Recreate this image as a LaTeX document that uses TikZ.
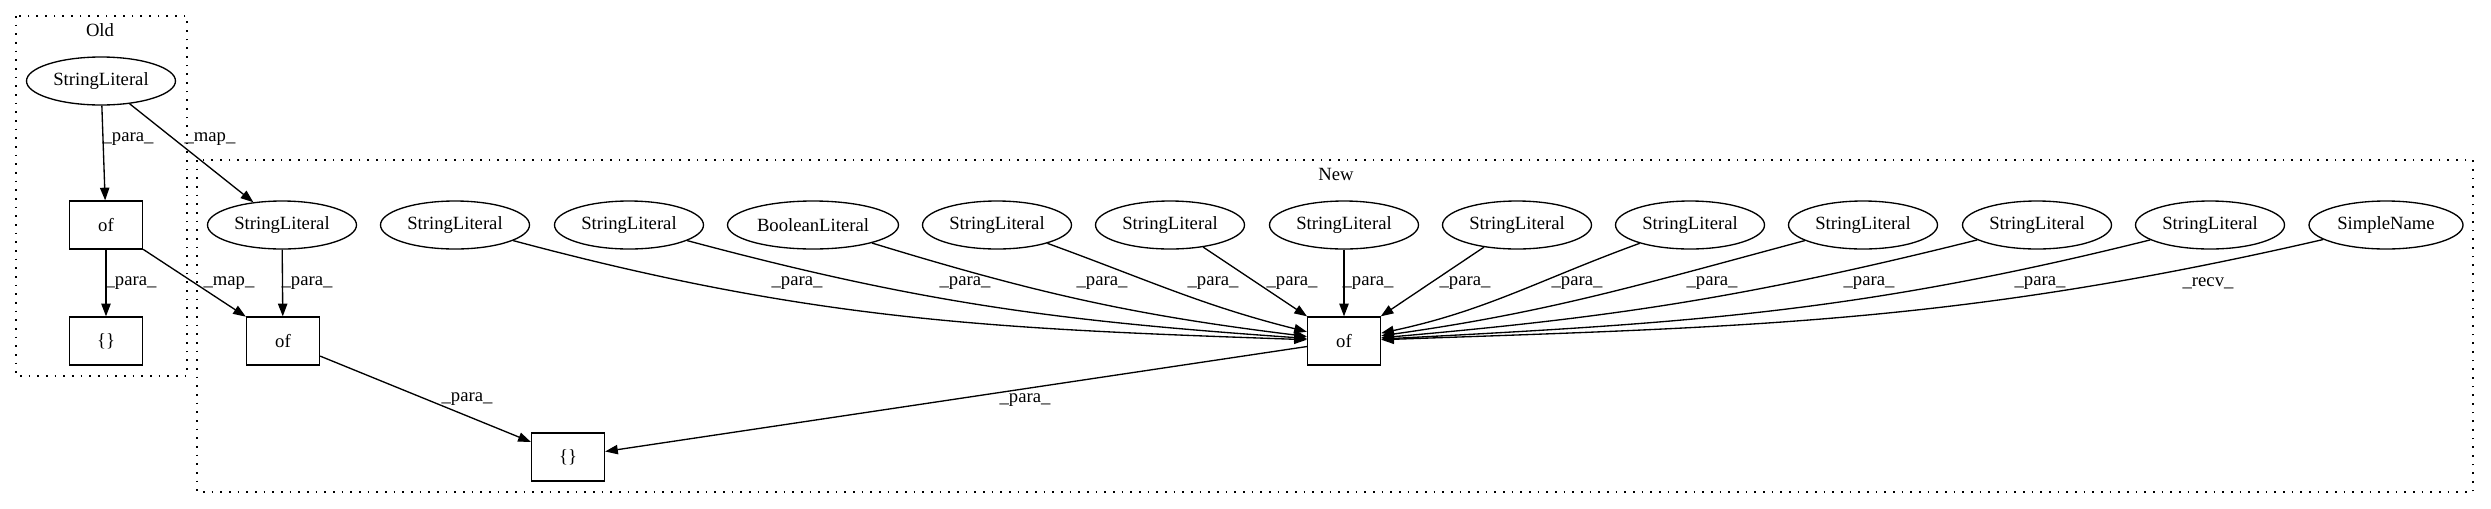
\documentclass[tikz,border=0pt]{standalone}
\usepackage{fontspec}
\setmainfont{Liberation Serif}
\usetikzlibrary{arrows.meta,shapes.geometric}
\begin{document}
\begin{tikzpicture}[x=0.75pt,y=-0.75pt,
  font=\fontsize{14}{16}\selectfont,
  ell/.style={draw,ellipse,line width=1pt,inner sep=0pt,minimum width=111.75pt,minimum height=36pt},
  box/.style={draw,rectangle,line width=1pt,inner sep=0pt,minimum width=54.75pt,minimum height=36pt},
  edge/.style={draw,line width=1pt,-{Triangle[length=9.5pt,width=7pt]}},
  lbl/.style={inner sep=0pt},
  cluster/.style={draw,line width=1pt,dash pattern=on 1.3pt off 5.2pt}]
\useasboundingbox (0,0) rectangle (2491,508);
% clusters
\draw[cluster] (16,16) rectangle (187,376);
\node[lbl] (oldlbl) at (100,30) {Old};
\draw[cluster] (197,160) rectangle (2473,492);
\node[lbl] (newlbl) at (1336,174) {New};
% old nodes
\node[ell] (osl) at (101,81) {StringLiteral};
\node[box] (oof) at (106,225) {of};
\node[box] (obr) at (106,341) {\{\}};
% new nodes
\node[ell] (nsl1) at (282,225) {StringLiteral};
\node[box] (nof1) at (283,341) {of};
\node[box] (nbr) at (568,457) {\{\}};
\node[ell] (nsl2) at (455,225) {StringLiteral};
\node[ell] (nsl3) at (629,225) {StringLiteral};
\node[ell,minimum width=128.25pt] (nbool) at (813,225) {BooleanLiteral};
\node[ell] (nsl4) at (997,225) {StringLiteral};
\node[ell] (nsl5) at (1170,225) {StringLiteral};
\node[ell] (nsl6) at (1344,225) {StringLiteral};
\node[ell] (nsl7) at (1517,225) {StringLiteral};
\node[ell] (nsl8) at (1690,225) {StringLiteral};
\node[ell] (nsl9) at (1863,225) {StringLiteral};
\node[ell] (nsl10) at (2037,225) {StringLiteral};
\node[ell] (nsl11) at (2210,225) {StringLiteral};
\node[ell,minimum width=115.5pt] (nsn) at (2386,225) {SimpleName};
\node[box] (bigof) at (1344,341) {of};
% old edges
\draw[edge] (osl) -- (oof);
\node[lbl] (l1) at (128,139) {\_para\_};
\draw[edge] (osl) -- (nsl1);
\node[lbl] (l2) at (210,139) {\_map\_};
\draw[edge] (oof) -- (obr);
\node[lbl] (l3) at (131,283) {\_para\_};
\draw[edge] (oof) -- (nof1);
\node[lbl] (l4) at (229,283) {\_map\_};
% new edges
\draw[edge] (nsl1) -- (nof1);
\node[lbl] (l5) at (307,283) {\_para\_};
\draw[edge] (nof1) -- (nbr);
\node[lbl] (l6) at (467,399) {\_para\_};
\draw[edge] (bigof) -- (nbr);
\node[lbl] (l7) at (1025,400) {\_para\_};
\draw[edge] (nsl2) to[out=-15,in=178] (bigof);
\node[lbl] (l8) at (797,283) {\_para\_};
\draw[edge] (nsl3) to[out=-15,in=176] (bigof);
\node[lbl] (l9) at (965,283) {\_para\_};
\draw[edge] (nbool) to[out=-17,in=173] (bigof);
\node[lbl] (l10) at (1102,283) {\_para\_};
\draw[edge] (nsl4) to[out=-20,in=166] (bigof);
\node[lbl] (l11) at (1213,283) {\_para\_};
\draw[edge] (nsl5) -- (bigof);
\node[lbl] (l12) at (1292,283) {\_para\_};
\draw[edge] (nsl6) -- (bigof);
\node[lbl] (l13) at (1368,283) {\_para\_};
\draw[edge] (nsl7) -- (bigof);
\node[lbl] (l14) at (1465,283) {\_para\_};
\draw[edge] (nsl8) to[out=-160,in=12] (bigof);
\node[lbl] (l15) at (1577,283) {\_para\_};
\draw[edge] (nsl9) to[out=-165,in=8] (bigof);
\node[lbl] (l16) at (1712,283) {\_para\_};
\draw[edge] (nsl10) to[out=-166,in=5] (bigof);
\node[lbl] (l17) at (1869,283) {\_para\_};
\draw[edge] (nsl11) to[out=-166,in=3] (bigof);
\node[lbl] (l18) at (2040,283) {\_para\_};
\draw[edge] (nsn) to[out=-167,in=2] (bigof);
\node[lbl] (l19) at (2208,283) {\_recv\_};
\end{tikzpicture}
\end{document}
